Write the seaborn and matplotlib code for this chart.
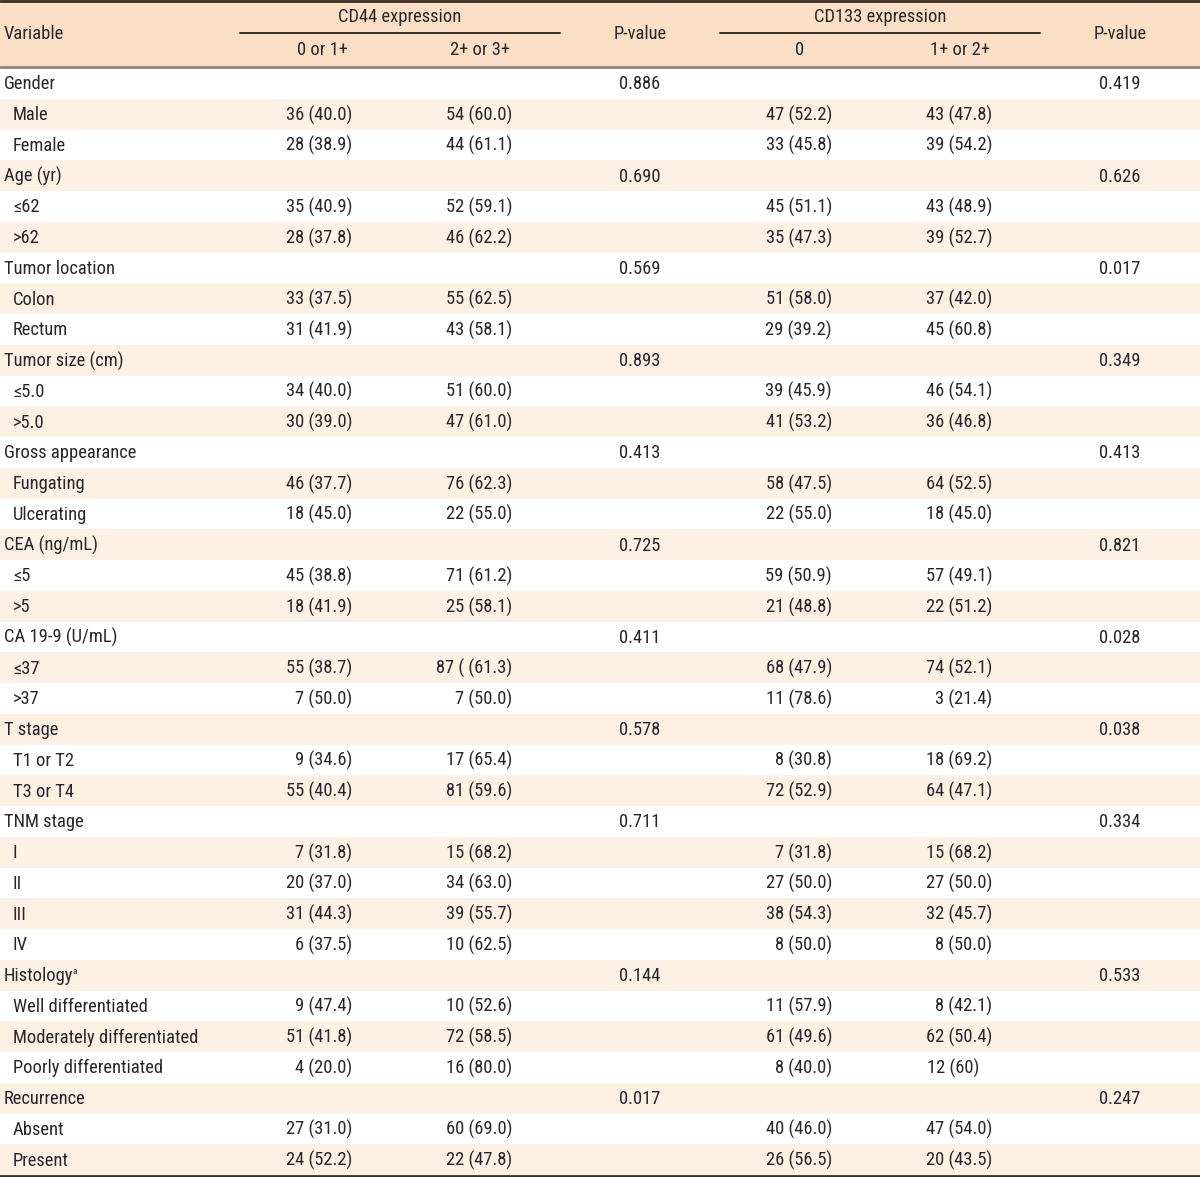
import matplotlib
matplotlib.use("Agg")
import matplotlib.pyplot as plt
import seaborn as sns

# Table content
variables = [
    "Gender", "Male", "Female",
    "Age (yr)", "≤62", ">62",
    "Tumor location", "Colon", "Rectum",
    "Tumor size (cm)", "≤5.0", ">5.0",
    "Gross appearance", "Fungating", "Ulcerating",
    "CEA (ng/mL)", "≤5", ">5",
    "CA 19-9 (U/mL)", "≤37", ">37",
    "T stage", "T1 or T2", "T3 or T4",
    "TNM stage", "I", "II", "III", "IV",
    "Histology", "Well differentiated", "Moderately differentiated", "Poorly differentiated",
    "Recurrence", "Absent", "Present",
]
is_group = [1, 0, 0, 1, 0, 0, 1, 0, 0, 1, 0, 0, 1, 0, 0, 1, 0, 0, 1, 0, 0,
            1, 0, 0, 1, 0, 0, 0, 0, 1, 0, 0, 0, 1, 0, 0]

cd44_low = ["", "36 (40.0)", "28 (38.9)", "", "35 (40.9)", "28 (37.8)", "", "33 (37.5)", "31 (41.9)",
            "", "34 (40.0)", "30 (39.0)", "", "46 (37.7)", "18 (45.0)", "", "45 (38.8)", "18 (41.9)",
            "", "55 (38.7)", "7 (50.0)", "", "9 (34.6)", "55 (40.4)", "", "7 (31.8)", "20 (37.0)",
            "31 (44.3)", "6 (37.5)", "", "9 (47.4)", "51 (41.8)", "4 (20.0)", "", "27 (31.0)", "24 (52.2)"]
cd44_high = ["", "54 (60.0)", "44 (61.1)", "", "52 (59.1)", "46 (62.2)", "", "55 (62.5)", "43 (58.1)",
             "", "51 (60.0)", "47 (61.0)", "", "76 (62.3)", "22 (55.0)", "", "71 (61.2)", "25 (58.1)",
             "", "87 ( (61.3)", "7 (50.0)", "", "17 (65.4)", "81 (59.6)", "", "15 (68.2)", "34 (63.0)",
             "39 (55.7)", "10 (62.5)", "", "10 (52.6)", "72 (58.5)", "16 (80.0)", "", "60 (69.0)", "22 (47.8)"]
p_cd44 = {0: "0.886", 3: "0.690", 6: "0.569", 9: "0.893", 12: "0.413", 15: "0.725",
          18: "0.411", 21: "0.578", 24: "0.711", 29: "0.144", 33: "0.017"}

cd133_neg = ["", "47 (52.2)", "33 (45.8)", "", "45 (51.1)", "35 (47.3)", "", "51 (58.0)", "29 (39.2)",
             "", "39 (45.9)", "41 (53.2)", "", "58 (47.5)", "22 (55.0)", "", "59 (50.9)", "21 (48.8)",
             "", "68 (47.9)", "11 (78.6)", "", "8 (30.8)", "72 (52.9)", "", "7 (31.8)", "27 (50.0)",
             "38 (54.3)", "8 (50.0)", "", "11 (57.9)", "61 (49.6)", "8 (40.0)", "", "40 (46.0)", "26 (56.5)"]
cd133_pos = ["", "43 (47.8)", "39 (54.2)", "", "43 (48.9)", "39 (52.7)", "", "37 (42.0)", "45 (60.8)",
             "", "46 (54.1)", "36 (46.8)", "", "64 (52.5)", "18 (45.0)", "", "57 (49.1)", "22 (51.2)",
             "", "74 (52.1)", "3 (21.4)", "", "18 (69.2)", "64 (47.1)", "", "15 (68.2)", "27 (50.0)",
             "32 (45.7)", "8 (50.0)", "", "8 (42.1)", "62 (50.4)", "12 (60)", "", "47 (54.0)", "20 (43.5)"]
p_cd133 = {0: "0.419", 3: "0.626", 6: "0.017", 9: "0.349", 12: "0.413", 15: "0.821",
           18: "0.028", 21: "0.038", 24: "0.334", 29: "0.533", 33: "0.247"}

sns.set_theme(style="white")
plt.rcParams['font.family'] = ['Roboto Condensed', 'Liberation Sans Narrow', 'Roboto', 'DejaVu Sans']

W, H = 1200, 1177
fig = plt.figure(figsize=(12, 11.77), dpi=100)
ax = fig.add_axes([0, 0, 1, 1])
ax.set_xlim(0, W)
ax.set_ylim(H, 0)
ax.axis('off')

header_bg = '#fadfc7'
stripe_bg = '#fdf0e5'
txt = '#2a2627'
fs = 13.3
kw = dict(fontsize=fs, color=txt, va='center')

# header band
ax.axhspan(0, 66, color=header_bg, lw=0)
ax.axhline(1, color='#3b2a20', lw=2)
ax.axhline(66.5, color='#8d857f', lw=2)
ax.plot([240, 560], [33, 33], color='#3b2a20', lw=1.4)
ax.plot([720, 1040], [33, 33], color='#3b2a20', lw=1.4)

ax.text(4, 34, "Variable", ha='left', **kw)
ax.text(400, 17, "CD44 expression", ha='center', **kw)
ax.text(322, 50, "0 or 1+", ha='center', **kw)
ax.text(480, 50, "2+ or 3+", ha='center', **kw)
ax.text(640, 34, "P-value", ha='center', **kw)
ax.text(880, 17, "CD133 expression", ha='center', **kw)
ax.text(800, 50, "0", ha='center', **kw)
ax.text(960, 50, "1+ or 2+", ha='center', **kw)
ax.text(1120, 34, "P-value", ha='center', **kw)

renderer = fig.canvas.get_renderer()
top = 68
rh = (1175 - top) / len(variables)
for i, name in enumerate(variables):
    y0 = top + i * rh
    yc = y0 + rh / 2 + 1
    if i % 2 == 1:
        ax.axhspan(y0, y0 + rh, color=stripe_bg, lw=0)
    x = 4 if is_group[i] else 13
    t = ax.text(x, yc, name, ha='left', **kw)
    if name == "Histology":
        bb = t.get_window_extent(renderer=renderer)
        ax.text(bb.x1 - 1, yc - 5, "a", ha='left', va='center', fontsize=6.5, color=txt)
    ax.text(352, yc, cd44_low[i], ha='right', **kw)
    ax.text(512, yc, cd44_high[i], ha='right', **kw)
    ax.text(832, yc, cd133_neg[i], ha='right', **kw)
    if cd133_pos[i] == "12 (60)":
        ax.text(927, yc, cd133_pos[i], ha='left', **kw)
    else:
        ax.text(992, yc, cd133_pos[i], ha='right', **kw)
    if i in p_cd44:
        ax.text(640, yc, p_cd44[i], ha='center', **kw)
    if i in p_cd133:
        ax.text(1120, yc, p_cd133[i], ha='center', **kw)

ax.axhline(1175.5, color='#3b2a20', lw=2)

fig.savefig("out.png", dpi=100)
